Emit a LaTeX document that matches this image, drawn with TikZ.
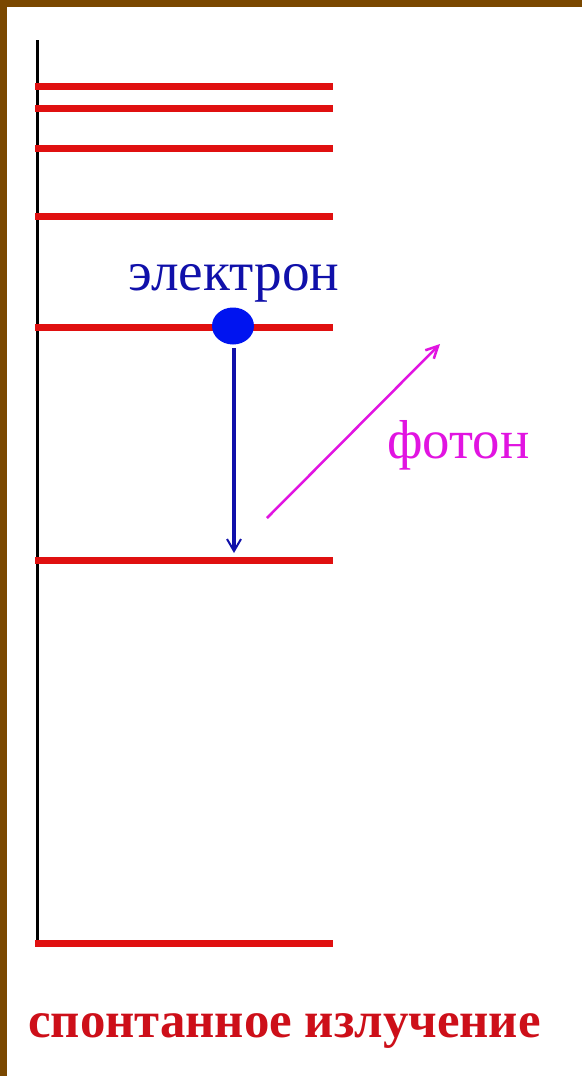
\documentclass[tikz,border=0pt]{standalone}
\usepackage{fontspec}
\setmainfont{Liberation Serif}
\usetikzlibrary{arrows.meta,shapes.geometric}
\definecolor{frame}{RGB}{122,72,0}
\definecolor{lvl}{RGB}{224,16,16}
\definecolor{eblue}{RGB}{16,16,170}
\definecolor{dotblue}{RGB}{0,20,240}
\definecolor{phot}{RGB}{225,20,225}
\definecolor{captred}{RGB}{205,15,25}
\tikzset{
  level/.style={draw=lvl, line width=7bp},
  lbl/.style={inner sep=0pt, anchor=base},
}
\begin{document}
\begin{tikzpicture}[x=1bp,y=-1bp]
\useasboundingbox (0,0) rectangle (582,1076);
\fill[white] (0,0) rectangle (582,1076);
\fill[frame] (0,0) rectangle (582,7);
\fill[frame] (0,0) rectangle (7,1076);
% axis
\coordinate (axtop) at (37,40);
\coordinate (axbot) at (37,943);
\draw[black, line width=3bp] (axtop) -- (axbot);
% levels
\foreach \n/\y in {a/86,b/108,c/148,d/216,e/327,f/560,g/943}{
  \coordinate (L\n l) at (35,\y);
  \coordinate (L\n r) at (333,\y);
  \draw[level] (L\n l) -- (L\n r);
}
% electron
\node[fill=dotblue, ellipse, minimum width=42bp, minimum height=37bp, inner sep=0pt] (el) at (233,326) {};
\coordinate (etop) at (234,348);
\coordinate (ebot) at (234,553);
\draw[eblue, line width=4.5bp, -{Straight Barb[length=12bp,width=14bp,line width=2bp]}] (etop) -- (ebot);
% photon
\coordinate (p1) at (267,518);
\coordinate (p2) at (440,344);
\draw[phot, line width=2.5bp, -{Straight Barb[length=12bp,width=12bp,line width=2.5bp]}] (p1) -- (p2);
% labels
\node[lbl, text=eblue, font=\fontsize{55.5}{60}\selectfont] (tel) at (234,290) {электрон};
\node[lbl, text=phot, font=\fontsize{55}{60}\selectfont, anchor=base west] (tph) at (387,458) {фотон};
\node[lbl, text=captred, font=\bfseries\fontsize{51}{56}\selectfont, anchor=base west] (tcap) at (28,1037) {спонтанное излучение};
\end{tikzpicture}
\end{document}
